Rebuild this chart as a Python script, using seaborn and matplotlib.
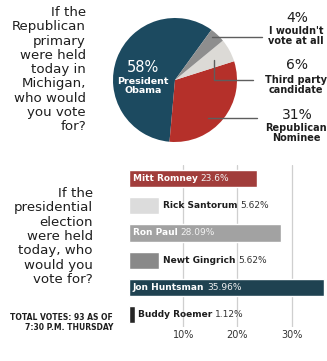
import matplotlib
matplotlib.use("Agg")
import matplotlib.pyplot as plt
import seaborn as sns
import pandas as pd

# Poll 1: general election question (pie)
pie_labels = ["President\nObama", "Republican\nNominee", "Third party\ncandidate", "I wouldn't\nvote at all"]
pie_values = [58, 31, 6, 4]
pie_colors = ["#1c4a60", "#b5302a", "#dcdad6", "#8e8e8e"]

# Poll 2: Republican primary candidates (bars)
candidates = ["Mitt Romney", "Rick Santorum", "Ron Paul", "Newt Gingrich", "Jon Huntsman", "Buddy Roemer"]
shares = [23.6, 5.62, 28.09, 5.62, 35.96, 1.12]
share_text = ["23.6%", "5.62%", "28.09%", "5.62%", "35.96%", "1.12%"]
bar_colors = ["#b22d2a", "#dcdcdc", "#a2a2a2", "#898989", "#174559", "#262626"]
label_inside = [True, False, True, False, True, False]
tick_vals = [10, 20, 30]
tick_text = ["10%", "20%", "30%"]

sns.set_theme(style="white")
plt.rcParams["font.family"] = ["DejaVu Sans"]

W, H = 327, 361
fig = plt.figure(figsize=(W / 100, H / 100), dpi=100)
fig.patch.set_facecolor("white")


def px_axes(left, top, width, height):
    return fig.add_axes([left / W, 1 - (top + height) / H, width / W, height / H])


TXT = "#1e1e1e"

# ---- question texts
q1 = "If the\nRepublican\nprimary\nwere held\ntoday in\nMichigan,\nwho would\nyou vote\nfor?"
fig.text(86 / W, 1 - 6 / H, q1, ha="right", va="top", fontsize=9.6,
         color=TXT, linespacing=1.13)
q2 = "If the\npresidential\nelection\nwere held\ntoday, who\nwould you\nvote for?"
fig.text(93 / W, 1 - 187 / H, q2, ha="right", va="top", fontsize=9.6,
         color=TXT, linespacing=1.13)
fig.text(113 / W, 1 - 313 / H, "TOTAL VOTES: 93 AS OF\n7:30 P.M. THURSDAY", ha="right",
         va="top", fontsize=5.5, fontweight="bold", color=TXT, linespacing=1.15)

# ---- pie
axp = px_axes(113, 18, 124, 124)
axp.pie(pie_values, colors=pie_colors, startangle=54, counterclock=True,
        wedgeprops=dict(linewidth=0))
axp.set_xlim(-1, 1)
axp.set_ylim(-1, 1)
axp.set_aspect("equal")
axp.axis("off")


def fig_xy(x, y):
    return x / W, 1 - y / H


fig.text(*fig_xy(143, 68), f"{pie_values[0]}%", ha="center", va="center",
         fontsize=10.5, color="white")
fig.text(*fig_xy(143, 86), pie_labels[0], ha="center", va="center",
         fontsize=6.8, fontweight="bold", color="white", linespacing=0.95)

# leader lines for the small slices
line_kw = dict(color="#5e5e5e", lw=1.0, transform=fig.transFigure)
fig.add_artist(plt.Line2D([212 / W, 262 / W], [1 - 37 / H, 1 - 37 / H], **line_kw))
fig.add_artist(plt.Line2D([214 / W, 214 / W, 253 / W],
                          [1 - 60 / H, 1 - 80 / H, 1 - 80 / H], **line_kw))
fig.add_artist(plt.Line2D([208 / W, 257 / W], [1 - 118 / H, 1 - 118 / H], **line_kw))

right_rows = [(1, 115, 133), (2, 65, 85), (3, 18, 36)]
for idx, y_pct, y_lab in right_rows:
    fig.text(*fig_xy(297, y_pct), f"{pie_values[idx]}%", ha="center", va="center",
             fontsize=10, color=TXT)
    fig.text(*fig_xy(296, y_lab), pie_labels[idx], ha="center", va="center",
             fontsize=7, fontweight="bold", color=TXT, linespacing=0.95)

# ---- bar chart
axb = px_axes(129, 165, 198, 162)
df = pd.DataFrame({"candidate": candidates, "share": shares})
sns.barplot(data=df, x="share", y="candidate", hue="candidate", palette=bar_colors,
            orient="h", width=0.63, legend=False, ax=axb, zorder=3)
axb.set_xlim(0, 36.5)
axb.set_ylim(5.46, -0.5)
axb.set_xticks(tick_vals)
axb.set_xticklabels(tick_text, fontsize=7, color="#333333")
axb.set_yticks([])
axb.set_xlabel("")
axb.set_ylabel("")
axb.tick_params(axis="x", length=0, pad=2)
for s in axb.spines.values():
    s.set_visible(False)
for v in tick_vals:
    axb.axvline(v, color="#cfcfcf", lw=0.9, zorder=1)

for i, (name, val, txt, inside) in enumerate(zip(candidates, shares, share_text, label_inside)):
    if inside:
        x0, col, vcol = 0.7, "white", "#f2f2f2"
    else:
        x0, col, vcol = val + 0.6, TXT, "#333333"
    t = axb.text(x0, i, name, ha="left", va="center", fontsize=6.5,
                 fontweight="bold", color=col, zorder=4)
    fig.canvas.draw()
    bb = t.get_window_extent()
    xend = axb.transData.inverted().transform((bb.x1, bb.y0))[0]
    axb.text(xend + 0.5, i, txt, ha="left", va="center", fontsize=6.5,
             color=vcol, zorder=4)

fig.savefig("out.png", dpi=100, facecolor="white")
